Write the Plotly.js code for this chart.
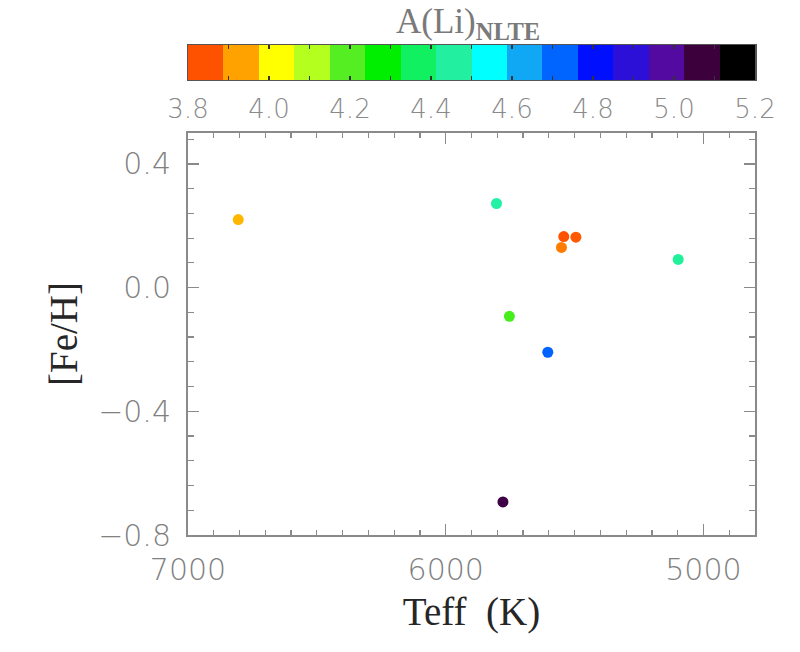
<!DOCTYPE html>
<html>
<head>
<meta charset="utf-8">
<script src="https://cdn.plot.ly/plotly-3.0.1.min.js"></script>
<style>
  html, body { margin: 0; padding: 0; background: #ffffff; }
  #chart { width: 800px; height: 652px; }
</style>
</head>
<body>
<div id="chart"></div>
<script>
// Stars: effective temperature, metallicity and NLTE lithium abundance
const teff    = [6805, 5803, 5542, 5495, 5551, 5098, 5753, 5604, 5778];
const feH     = [0.220, 0.272, 0.165, 0.163, 0.130, 0.091, -0.093, -0.209, -0.693];
const aLiNLTE = [3.95, 4.46, 3.84, 3.85, 3.89, 4.45, 4.21, 4.72, 5.06];

// Colour table used for A(Li), split into 16 levels
const levelColors = [
  '#ff5200', '#ffa200', '#ffff00', '#b4ff1e', '#55ee22', '#00ee00',
  '#10f060', '#22f0a0', '#00ffff', '#10a8f4', '#0064ff', '#0010ff',
  '#2c10d8', '#520aa0', '#3c003c', '#000000'
];
const aLiMin = 3.8;
const aLiMax = 5.2;

// Axis ticks
const teffTicks = [7000, 6000, 5000];
const feHTicks  = [-0.8, -0.4, 0.0, 0.4];
const aLiTicks  = [3.8, 4.0, 4.2, 4.4, 4.6, 4.8, 5.0, 5.2];

const nLev = levelColors.length;
const step = (aLiMax - aLiMin) / nLev;

// Continuous scale for the stars, anchored at the middle of each level
const pointScale = [[0, levelColors[0]]];
levelColors.forEach((c, i) => pointScale.push([(i + 0.5) / nLev, c]));
pointScale.push([1, levelColors[nLev - 1]]);

// Discrete strip for the colour bar
const edges = levelColors.map((c, i) => aLiMin + i * step).concat([aLiMax]);
const levelIndex = levelColors.map((c, i) => i);
const stripScale = levelColors.map((c, i) => [i / (nLev - 1), c]);

const tickGrey = '#8a8a8a';
const labelFont = { family: 'DejaVu Sans', size: 30, color: '#808080', weight: 300 };

const stars = {
  type: 'scatter', mode: 'markers',
  x: teff, y: feH,
  xaxis: 'x', yaxis: 'y',
  marker: {
    size: 11, color: aLiNLTE, colorscale: pointScale,
    cmin: aLiMin, cmax: aLiMax, showscale: false, line: { width: 0 }
  },
  hoverinfo: 'x+y', showlegend: false
};

const strip = {
  type: 'heatmap',
  x: edges, y: [0, 1], z: [levelIndex],
  xaxis: 'x2', yaxis: 'y2',
  colorscale: stripScale, zmin: 0, zmax: nLev - 1,
  showscale: false, hoverinfo: 'skip'
};

const layout = {
  width: 800, height: 652,
  paper_bgcolor: '#ffffff', plot_bgcolor: '#ffffff',
  margin: { l: 188, r: 45, t: 45, b: 117 },
  showlegend: false,
  xaxis: {
    domain: [0, 1], anchor: 'y',
    range: [7000, 4800],
    tickvals: teffTicks, ticktext: teffTicks.map(String),
    ticks: 'inside', ticklen: 11, tickwidth: 1.5, tickcolor: tickGrey,
    minor: { dtick: 100, tick0: 7000, ticks: 'inside', ticklen: 5, tickwidth: 1.2, tickcolor: tickGrey, showgrid: false },
    showline: true, linecolor: tickGrey, linewidth: 2, mirror: 'ticks',
    showgrid: false, zeroline: false,
    tickfont: labelFont, ticklabelstandoff: 7,
    title: { text: 'Teff  (K)', font: { family: 'Liberation Serif', size: 39, color: '#262626' }, standoff: 12 }
  },
  yaxis: {
    domain: [0, 0.8204], anchor: 'x',
    range: [-0.8, 0.5],
    tickvals: feHTicks, ticktext: feHTicks.map(v => v.toFixed(1).replace('-', '\u2212')),
    ticks: 'inside', ticklen: 11, tickwidth: 1.5, tickcolor: tickGrey,
    minor: { dtick: 0.08, tick0: -0.8, ticks: 'inside', ticklen: 6, tickwidth: 1.2, tickcolor: tickGrey, showgrid: false },
    showline: true, linecolor: tickGrey, linewidth: 2, mirror: 'ticks',
    showgrid: false, zeroline: false,
    tickfont: labelFont, ticklabelstandoff: 9,
    title: { text: '[Fe/H]', font: { family: 'Liberation Serif', size: 39, color: '#262626' }, standoff: 8 }
  },
  xaxis2: {
    domain: [0, 1], anchor: 'y2',
    range: [aLiMin, aLiMax],
    tickvals: aLiTicks, ticktext: aLiTicks.map(v => v.toFixed(1)),
    ticks: 'inside', ticklen: 4, tickwidth: 1.2, tickcolor: '#333333',
    minor: { dtick: 0.1, tick0: aLiMin, ticks: 'inside', ticklen: 4, tickwidth: 1.2, tickcolor: '#333333', showgrid: false },
    showline: true, linecolor: '#555555', linewidth: 1.5, mirror: 'ticks',
    showgrid: false, zeroline: false,
    tickfont: { family: 'DejaVu Sans', size: 26, color: '#8a8a8a', weight: 300 }, ticklabelstandoff: 5
  },
  yaxis2: {
    domain: [0.9286, 1], anchor: 'x2',
    range: [0, 1], fixedrange: true,
    showticklabels: false, ticks: '',
    showline: true, linecolor: '#555555', linewidth: 1.5, mirror: true,
    showgrid: false, zeroline: false
  },
  annotations: [{
    xref: 'paper', yref: 'paper', x: 0.5, y: 1,
    xanchor: 'center', yanchor: 'bottom', yshift: -2, xshift: -4,
    showarrow: false,
    text: 'A(Li)<sub><b>NLTE</b></sub>',
    font: { family: 'Liberation Serif', size: 35, color: '#7a7a7a' }
  }]
};

Plotly.newPlot('chart', [strip, stars], layout, { displayModeBar: false, staticPlot: true });
</script>
</body>
</html>
